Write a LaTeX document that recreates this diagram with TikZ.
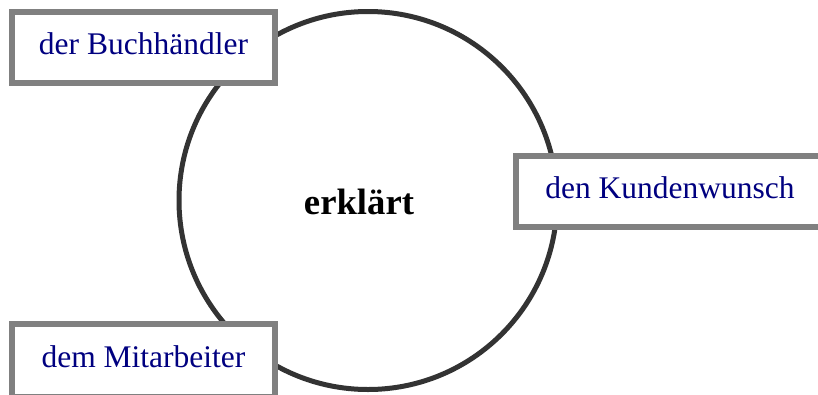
\documentclass[tikz,border=0pt]{standalone}
\usepackage{fontspec}
\setmainfont{Liberation Serif}
\definecolor{boxgray}{HTML}{808080}
\definecolor{ringgray}{HTML}{333333}
\definecolor{navytext}{HTML}{000080}
\begin{document}
\begin{tikzpicture}[x=1pt,y=-1pt,
  rolebox/.style={draw=boxgray, line width=6pt, fill=white, rectangle,
    minimum height=71pt, inner sep=0pt, text=navytext,
    font=\fontsize{31.5}{36}\selectfont, text height=22pt, text depth=9pt},
  ring/.style={draw=ringgray, line width=5pt, circle, minimum size=378pt, inner sep=0pt},
  verbtext/.style={font=\fontsize{36.7}{42}\bfseries\selectfont, text=black, anchor=base, inner sep=0pt}]
\useasboundingbox (0,0) rectangle (818,394);
\clip (0,0) rectangle (818,394);
\node[ring] (verb) at (368,200.5) {};
\node[verbtext] (verblabel) at (359,214) {erklärt};
\node[rolebox, minimum width=263pt] (subj) at (143.5,47.5) {der Buchhändler};
\node[rolebox, minimum width=308pt] (obj) at (670,191.5) {den Kundenwunsch};
\node[rolebox, minimum width=263pt, minimum height=73pt, text height=23pt] (dat) at (143.5,360.5) {dem Mitarbeiter};
\end{tikzpicture}
\end{document}
